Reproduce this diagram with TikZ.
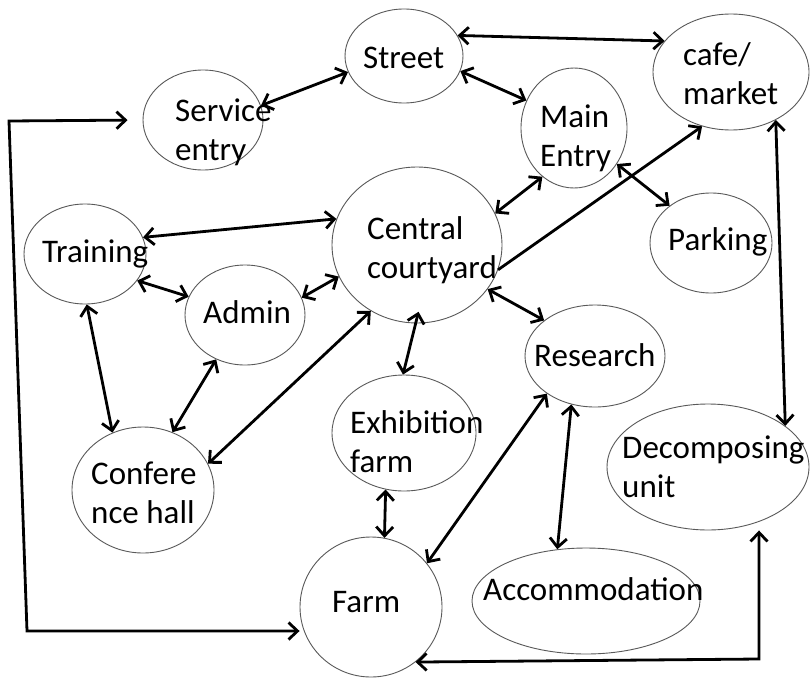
\documentclass[tikz,border=0pt]{standalone}
\usepackage{fontspec}
\setmainfont{Carlito}
\usetikzlibrary{arrows.meta,shapes.geometric}
\tikzset{
  place/.style={ellipse, draw=black!65, line width=0.9pt, inner sep=0pt},
  lbl/.style={inner sep=0pt, anchor=base west, align=left,
              font=\fontsize{33}{39}\selectfont},
  barb/.tip={Straight Barb[length=9pt,width=17pt]},
  link/.style={line width=2.8pt, barb-barb},
  onelink/.style={line width=2.8pt, -barb},
}
\begin{document}
\begin{tikzpicture}[x=1pt,y=-1pt]
\fill[white] (0,0) rectangle (810,677);
\useasboundingbox (0,0) rectangle (810,677);

% rooms and zones
\node[place, minimum width=118pt, minimum height=94pt]  (street) at (404,56)  {};
\node[place, minimum width=120pt, minimum height=100pt] (serv)   at (203,120) {};
\node[place, minimum width=156pt, minimum height=116pt] (cafe)   at (731,72)  {};
\node[place, minimum width=106pt, minimum height=120pt] (main)   at (574,128) {};
\node[place, minimum width=170pt, minimum height=156pt] (cent)   at (417,245) {};
\node[place, minimum width=122pt, minimum height=100pt] (park)   at (711,243) {};
\node[place, minimum width=122pt, minimum height=100pt] (train)  at (85,254)  {};
\node[place, minimum width=120pt, minimum height=100pt] (admin)  at (245,315) {};
\node[place, minimum width=140pt, minimum height=102pt] (res)    at (595,356) {};
\node[place, minimum width=144pt, minimum height=116pt] (exh)    at (404,433) {};
\node[place, minimum width=142pt, minimum height=126pt] (conf)   at (143,490) {};
\node[place, minimum width=142pt, minimum height=140pt] (farm)   at (371,607) {};
\node[place, minimum width=202pt, minimum height=126pt] (dec)    at (708,467) {};
\node[place, minimum width=228pt, minimum height=106pt] (acc)    at (586,601) {};

% labels (base = baseline of the last line)
\node[lbl] (street-t) at (363,68)  {Street};
\node[lbl] (serv-t)   at (175,160) {Service\\entry};
\node[lbl] (cafe-t)   at (683,104) {cafe/\\market};
\node[lbl] (main-t)   at (540,166) {Main\\Entry};
\node[lbl] (cent-t)   at (367,278) {Central\\courtyard};
\node[lbl] (park-t)   at (668,250) {Parking};
\node[lbl] (train-t)  at (42,262)  {Training};
\node[lbl] (admin-t)  at (203,323) {Admin};
\node[lbl] (res-t)    at (534,366) {Research};
\node[lbl] (exh-t)    at (350,472) {Exhibition\\farm};
\node[lbl] (conf-t)   at (91,523)  {Confere\\nce hall};
\node[lbl] (farm-t)   at (332,612) {Farm};
\node[lbl] (dec-t)    at (622,497) {Decomposing\\unit};
\node[lbl] (acc-t)    at (483,600) {Accommodation};

% corners of the two service loops
\coordinate (tlc) at (9,121);
\coordinate (blc) at (27,631);
\coordinate (brc) at (759,659);

% links
\draw[link] (serv.14) -- (street.196);
\draw[link] (street.21) -- (cafe.155);
\draw[link] (street.-15) -- (main.150);
\draw[link] (main.237) -- (cent.22);
\draw[link] (main.-40) -- (park.138);
\draw[onelink] (cent.-17) -- (cafe.242);
\draw[link] (train.16) -- (cent.162);
\draw[link] (train.-27) -- (admin.162);
\draw[link] (admin.17) -- (cent.202);
\draw[link] (cent.235) -- (conf.22);
\draw[link] (train.272) -- (conf.118);
\draw[link] (admin.237) -- (conf.63);
\draw[link, shorten <=-12pt] (cent.269) -- (exh.91);
\draw[link] (cent.-32) -- (res.145);
\draw[link] (exh.252) -- (farm.79);
\draw[link] (res.218) -- (farm.38);
\draw[link] (res.244) -- (acc.119);
\draw[link] (cafe.-47) -- (dec.28);
\draw[link] (farm.-51) -- (brc) -- (brc |- dec.south);
\draw[link, shorten <=15pt] (serv.west) -- (tlc) -- (blc) -- (farm.west |- blc);
\end{tikzpicture}
\end{document}
